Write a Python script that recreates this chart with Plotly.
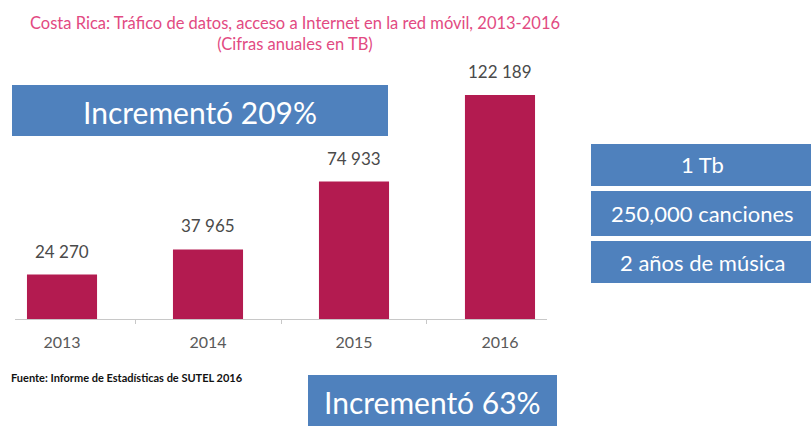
import plotly.graph_objects as go

years = ["2013", "2014", "2015", "2016"]
trafico_tb = [24270, 37965, 74933, 122189]
title_lines = ["Costa Rica: Tráfico de datos, acceso a Internet en la red móvil, 2013-2016",
               "(Cifras anuales en TB)"]
box_main = ["Incrementó 209%", "Incrementó 63%"]
box_side = ["1 Tb", "250,000 canciones", "2 años de música"]
source = "Fuente: Informe de Estadísticas de SUTEL 2016"

W, H = 811, 426
BAR = "#b31b50"
BLUE = "#4f81bd"
FONT = "Lato, 'Open Sans', sans-serif"

def px(x):
    return x / W

def py(y):
    return 1 - y / H

labels = [f"{v:,}".replace(",", " ") for v in trafico_tb]

fig = go.Figure(go.Bar(
    x=years, y=trafico_tb, marker=dict(color=BAR, line=dict(width=0)),
    width=0.48, hoverinfo="skip",
))

annotations = []
for i, (v, lab) in enumerate(zip(trafico_tb, labels)):
    annotations.append(dict(x=i, y=v, xref="x", yref="y", text=lab, showarrow=False,
                            xanchor="center", yanchor="bottom", yshift=11,
                            font=dict(family=FONT, size=17, color="#4a4a4a")))

annotations.append(dict(x=px(295), y=py(11), xref="paper", yref="paper",
                        text=title_lines[0] + "<br>" + title_lines[1], showarrow=False,
                        xanchor="center", yanchor="top", align="center",
                        font=dict(family=FONT, size=16.5, color="#e24a82")))

shapes = []
main_boxes = [(12, 85, 388, 136), (308, 375, 557, 426)]
for (x0, y0, x1, y1), txt in zip(main_boxes, box_main):
    shapes.append(dict(type="rect", xref="paper", yref="paper", x0=px(x0), x1=px(x1),
                       y0=py(y1), y1=py(y0), fillcolor=BLUE, line=dict(width=0), layer="above"))
    annotations.append(dict(x=px((x0 + x1) / 2), y=py((y0 + y1) / 2 + 1), xref="paper", yref="paper",
                            text=txt, showarrow=False, xanchor="center", yanchor="middle",
                            font=dict(family=FONT, size=30, color="white")))

side_boxes = [(591, 144, 811, 186), (591, 191, 811, 236), (591, 241, 811, 283)]
for (x0, y0, x1, y1), txt in zip(side_boxes, box_side):
    shapes.append(dict(type="rect", xref="paper", yref="paper", x0=px(x0), x1=px(x1),
                       y0=py(y1), y1=py(y0), fillcolor=BLUE, line=dict(width=0), layer="above"))
    annotations.append(dict(x=px((x0 + x1) / 2 + 1), y=py((y0 + y1) / 2), xref="paper", yref="paper",
                            text=txt, showarrow=False, xanchor="center", yanchor="middle",
                            font=dict(family=FONT, size=22, color="white")))

annotations.append(dict(x=px(9), y=py(377), xref="paper", yref="paper", text="<b>" + source + "</b>",
                        showarrow=False, xanchor="left", yanchor="middle",
                        font=dict(family=FONT, size=11, color="#111111")))

fig.update_layout(
    width=W, height=H, margin=dict(l=0, r=0, t=0, b=0),
    paper_bgcolor="white", plot_bgcolor="white", showlegend=False,
    xaxis=dict(type="category", domain=[px(15), px(547)], range=[-0.322, 3.322],
               showline=True, linecolor="#c8c8c8", linewidth=1,
               ticks="outside", tickson="boundaries", ticklen=4, tickcolor="#c8c8c8",
               ticklabelstandoff=9,
               showgrid=False, zeroline=False,
               tickfont=dict(family=FONT, size=16, color="#595959")),
    yaxis=dict(domain=[py(319), py(71.5)], range=[0, 135000], visible=False,
               showgrid=False, zeroline=False),
    shapes=shapes, annotations=annotations,
)

fig.write_html("out.html", config={"displayModeBar": False, "staticPlot": True},
               post_script="document.body.style.margin='0';document.body.style.overflow='hidden';")
